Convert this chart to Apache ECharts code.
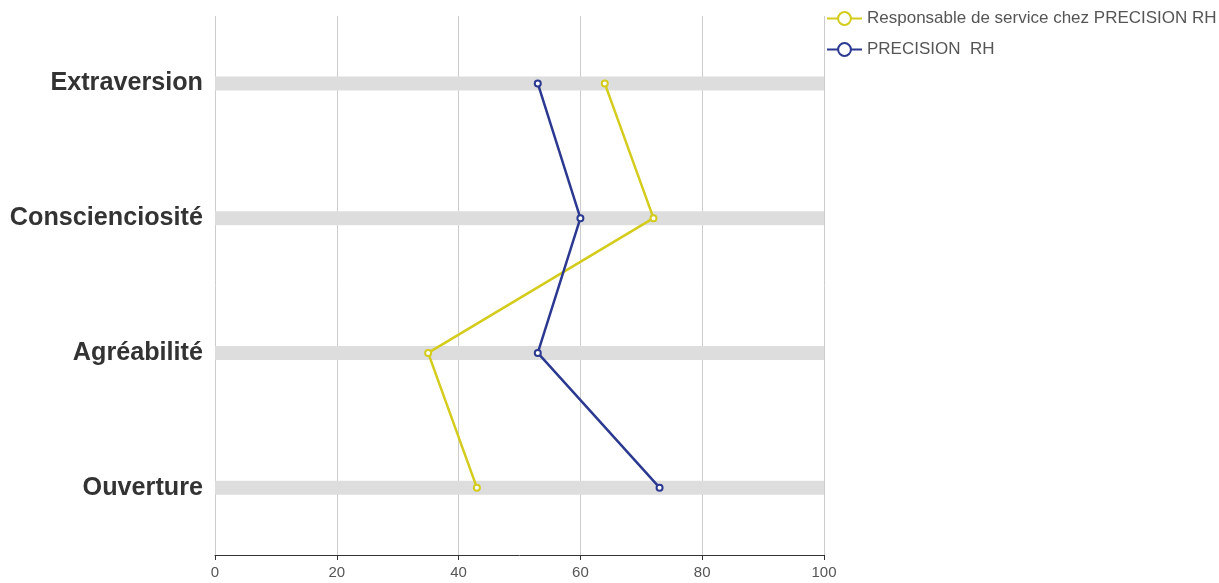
<!DOCTYPE html>
<html>
<head>
<meta charset="utf-8">
<script src="https://cdn.jsdelivr.net/npm/echarts@6/dist/echarts.min.js"></script>
<style>
  html, body { margin: 0; padding: 0; background: #fff; }
  #chart { width: 1219px; height: 583px; }
</style>
</head>
<body>
<div id="chart"></div>
<script>
  const categories = ['Extraversion', 'Conscienciosité', 'Agréabilité', 'Ouverture']
  const backgroundValues = [100, 100, 100, 100]
  const responsableValues = [64, 72, 35, 43]
  const precisionValues = [53, 60, 53, 73]
  const seriesNames = ['Responsable de service chez PRECISION RH', 'PRECISION  RH']

  const chart = echarts.init(document.getElementById('chart'))
  chart.setOption({
    animation: false,
    textStyle: { fontFamily: 'Liberation Sans, Arial, sans-serif' },
    legend: {
      data: seriesNames,
      orient: 'vertical',
      left: 821,
      top: 5,
      itemWidth: 35,
      itemHeight: 16,
      itemGap: 14,
      textStyle: { fontSize: 17, color: '#555' }
    },
    grid: {
      left: 215,
      right: 395,
      top: 16,
      bottom: 28
    },
    xAxis: {
      type: 'value',
      min: 0,
      max: 100,
      interval: 20,
      axisLine: { show: true, lineStyle: { color: '#333', width: 1 } },
      axisTick: { show: true, length: 5, lineStyle: { color: '#333' } },
      axisLabel: { fontSize: 15, color: '#555', margin: 10 },
      splitLine: { show: true, lineStyle: { color: '#ccc', width: 1 } }
    },
    yAxis: {
      type: 'category',
      data: categories,
      inverse: true,
      axisLine: { show: false },
      axisTick: { show: false },
      axisLabel: { fontSize: 25.2, fontWeight: 'bold', color: '#333', margin: 12 }
    },
    series: [{
      type: 'bar',
      data: backgroundValues,
      barWidth: 14,
      silent: true,
      itemStyle: { color: '#dddddd' },
      z: 1
    }, {
      name: seriesNames[0],
      type: 'line',
      data: responsableValues,
      symbol: 'emptyCircle',
      symbolSize: 6,
      lineStyle: { width: 2.5, color: '#d4cc1d' },
      itemStyle: { color: '#d4cc1d', borderWidth: 1.5 },
      z: 3
    }, {
      name: seriesNames[1],
      type: 'line',
      data: precisionValues,
      symbol: 'emptyCircle',
      symbolSize: 6,
      lineStyle: { width: 2.5, color: '#2b3990' },
      itemStyle: { color: '#2b3990', borderWidth: 1.5 },
      z: 3
    }]
  })
</script>
</body>
</html>
